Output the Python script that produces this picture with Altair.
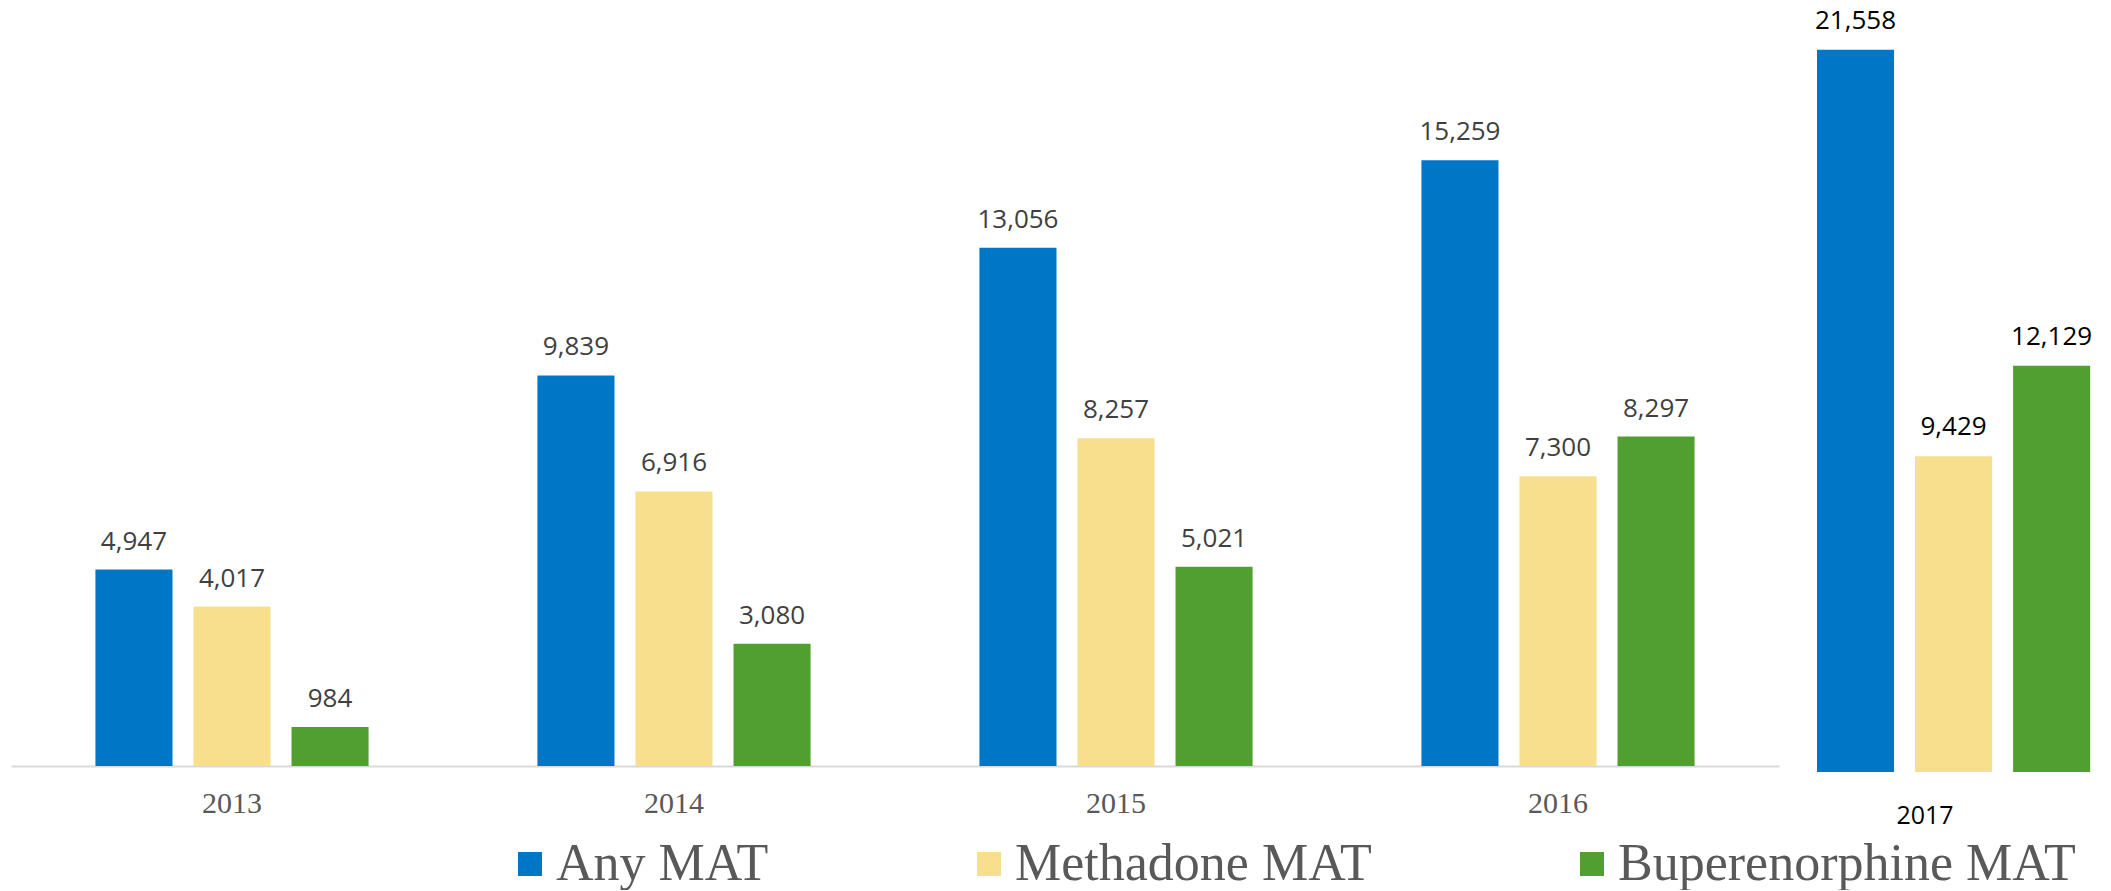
import altair as alt
import pandas as pd

# Medication-assisted treatment (MAT) counts by year
years = ["2013", "2014", "2015", "2016", "2017"]
series = ["Any MAT", "Methadone MAT", "Buperenorphine MAT"]
any_mat = [4947, 9839, 13056, 15259, 21558]
methadone_mat = [4017, 6916, 8257, 7300, 9429]
bupe_mat = [984, 3080, 5021, 8297, 12129]
colors = ["#0076C6", "#F7DF8E", "#519E31"]

rows = []
for i, yr in enumerate(years):
    for name, vals in zip(series, [any_mat, methadone_mat, bupe_mat]):
        rows.append({"Year": yr, "Series": name, "Count": vals[i]})
df = pd.DataFrame(rows)

color = alt.Color(
    "Series:N",
    sort=series,
    scale=alt.Scale(domain=series, range=colors),
    legend=alt.Legend(title=None),
)

# --- 2013-2016 panel -------------------------------------------------------
left_base = alt.Chart(df).transform_filter(alt.datum.Year != "2017")
x_left = alt.X(
    "Year:N",
    scale=alt.Scale(paddingInner=0.382, paddingOuter=0.191),
    axis=alt.Axis(
        title=None, labelAngle=0, domainColor="#D9D9D9", domainWidth=2,
        ticks=False, tickSize=0, grid=False,
        labelFont="Liberation Serif", labelFontSize=30, labelColor="#595959",
        labelPadding=22,
    ),
)
xoff_left = alt.XOffset(
    "Series:N", sort=series,
    scale=alt.Scale(domain=series, paddingInner=0.214, paddingOuter=0),
)
y_left = alt.Y("Count:Q", scale=alt.Scale(domain=[0, 19295], nice=False), axis=None)

bars_left = left_base.mark_bar().encode(x=x_left, xOffset=xoff_left, y=y_left, color=color)
text_left = left_base.mark_text(
    baseline="alphabetic", dy=-20, font="Open Sans", fontSize=26, color="#404040"
).encode(x=x_left, xOffset=xoff_left, y=y_left, text=alt.Text("Count:Q", format=","))
left = alt.layer(bars_left, text_left).properties(width=1768, height=766)

# --- 2017 panel ------------------------------------------------------------
right_base = alt.Chart(df).transform_filter(alt.datum.Year == "2017")
x_right = alt.X(
    "Year:N",
    scale=alt.Scale(paddingInner=0, paddingOuter=0),
    axis=alt.Axis(
        title=None, labelAngle=0, domain=False, ticks=False, tickSize=0, grid=False,
        labelFont="Open Sans", labelFontSize=25, labelColor="#000000",
        labelPadding=31, labelOffset=-31,
    ),
)
xoff_right = alt.XOffset(
    "Series:N", sort=series,
    scale=alt.Scale(domain=series, paddingInner=0.275, paddingOuter=0),
)
y_right = alt.Y("Count:Q", scale=alt.Scale(domain=[0, 23045], nice=False), axis=None)

bars_right = right_base.mark_bar().encode(x=x_right, xOffset=xoff_right, y=y_right, color=color)
text_right = right_base.mark_text(
    baseline="alphabetic", dy=-21, font="Open Sans", fontSize=26, color="#000000"
).encode(x=x_right, xOffset=xoff_right, y=y_right, text=alt.Text("Count:Q", format=","))
right = alt.layer(bars_right, text_right).properties(width=278, height=772)

chart = (
    alt.hconcat(left, right, spacing=38, bounds="flush")
    .properties(padding={"left": 11, "top": 0, "right": 0, "bottom": 0})
    .configure_view(stroke=None)
    .configure_legend(
        orient="none", legendX=493, legendY=838, direction="horizontal",
        symbolType="square", symbolSize=576, symbolStrokeWidth=0, symbolOpacity=1,
        labelFont="Liberation Serif", labelFontSize=52, labelColor="#595959",
        labelOffset=0, columnPadding=194, labelLimit=0, padding=0,
    )
)

chart.save("out.html", embed_options={"renderer": "svg", "actions": False})
